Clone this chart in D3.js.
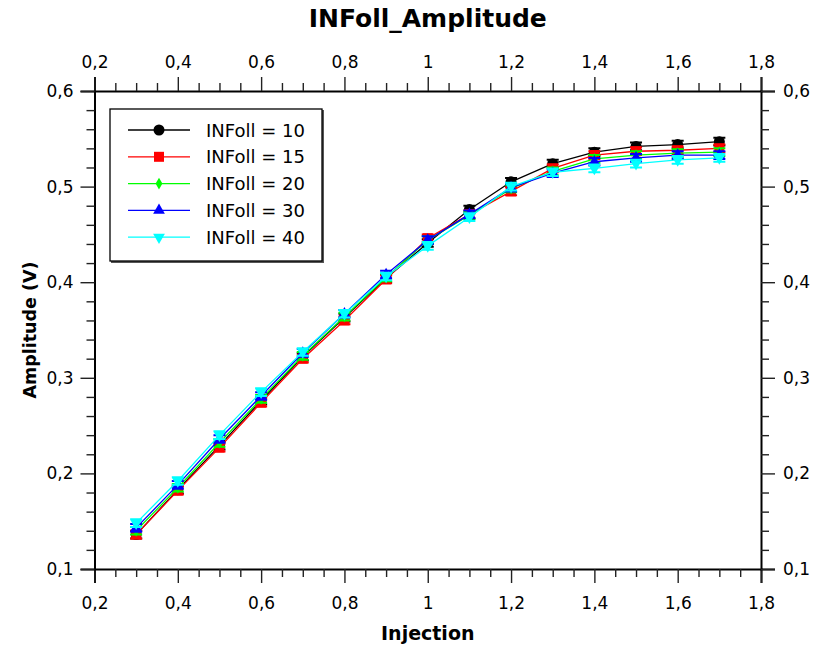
<!DOCTYPE html>
<html>
<head>
<meta charset="utf-8">
<script src="https://cdn.jsdelivr.net/npm/d3@7"></script>
<style>
  body { margin: 0; background: #fff; }
  text { font-family: "DejaVu Sans", Verdana, sans-serif; }
</style>
</head>
<body>
<div class="canvas"></div>
<script>
// data
const injection = [0.3, 0.4, 0.5, 0.6, 0.7, 0.8, 0.9, 1.0, 1.1, 1.2, 1.3, 1.4, 1.5, 1.6, 1.7]
const seriesNames = ["INFoll = 10", "INFoll = 15", "INFoll = 20", "INFoll = 30", "INFoll = 40"]
const infoll10 = [0.136, 0.183, 0.229, 0.276, 0.322, 0.363, 0.404, 0.441, 0.476, 0.505, 0.524, 0.536, 0.542, 0.544, 0.547]
const infoll15 = [0.136, 0.182, 0.227, 0.274, 0.320, 0.360, 0.403, 0.446, 0.471, 0.495, 0.519, 0.533, 0.537, 0.538, 0.540]
const infoll20 = [0.140, 0.185, 0.232, 0.278, 0.323, 0.364, 0.405, 0.444, 0.470, 0.498, 0.516, 0.529, 0.533, 0.535, 0.536]
const infoll30 = [0.143, 0.188, 0.236, 0.281, 0.326, 0.367, 0.408, 0.444, 0.471, 0.499, 0.514, 0.526, 0.530, 0.533, 0.533]
const infoll40 = [0.148, 0.192, 0.240, 0.285, 0.327, 0.367, 0.406, 0.438, 0.468, 0.500, 0.515, 0.519, 0.524, 0.528, 0.530]
const errors = [0.004, 0.004, 0.004, 0.004, 0.004]
const xTicks = [0.2, 0.4, 0.6, 0.8, 1.0, 1.2, 1.4, 1.6, 1.8]
const yTicks = [0.1, 0.2, 0.3, 0.4, 0.5, 0.6]

const seriesValues = [infoll10, infoll15, infoll20, infoll30, infoll40]
const colors = ["#000000", "#ff0000", "#00ff00", "#0000ff", "#00ffff"]
const shapes = [d3.symbolCircle, d3.symbolSquare, d3.symbolDiamond, d3.symbolTriangle, d3.symbolTriangle]
const sizes = [95, 100, 40, 60, 60]
const rotations = [0, 0, 0, 0, 180]

const width = 824
const height = 645
const margin = { top: 91, right: 63, bottom: 76, left: 94.5 }
const graphWidth = width - margin.left - margin.right
const graphHeight = height - margin.top - margin.bottom

const fmt = d => String(+d.toFixed(2)).replace(".", ",")

const svg = d3.select(".canvas")
    .append("svg")
    .attr("width", width)
    .attr("height", height)

const graph = svg.append("g")
    .attr("transform", `translate(${margin.left}, ${margin.top})`)

const x = d3.scaleLinear().domain([0.2, 1.8]).range([0, graphWidth])
const y = d3.scaleLinear().domain([0.1, 0.6]).range([graphHeight, 0])

const xMinor = d3.range(0.2, 1.8001, 0.05).filter(v => !xTicks.some(t => Math.abs(t - v) < 1e-6))
const yMinor = d3.range(0.1, 0.6001, 0.02).filter(v => !yTicks.some(t => Math.abs(t - v) < 1e-6))

// axes, major ticks labelled, minor ticks shorter
function drawAxis(axisFn, scale, ticks, minor, transform, pad) {
    const g = graph.append("g").attr("transform", transform)
    g.call(axisFn(scale).tickValues(ticks).tickFormat(fmt).tickSize(14).tickPadding(pad))
    g.append("g").call(axisFn(scale).tickValues(minor).tickFormat("").tickSize(8))
        .select(".domain").remove()
    g.selectAll(".domain").attr("stroke", "#000").attr("stroke-width", 2)
    g.selectAll(".tick line").attr("stroke", "#222").attr("stroke-width", 1.4)
    g.selectAll("text").attr("font-size", 17).attr("fill", "#000")
    return g
}

drawAxis(d3.axisBottom, x, xTicks, xMinor, `translate(0, ${graphHeight})`, 14)
drawAxis(d3.axisTop, x, xTicks, xMinor, "translate(0, 0)", 9)
drawAxis(d3.axisLeft, y, yTicks, yMinor, "translate(0, 0)", 7)
drawAxis(d3.axisRight, y, yTicks, yMinor, `translate(${graphWidth}, 0)`, 8)

// series
const line = d3.line().x(d => x(d[0])).y(d => y(d[1]))

seriesValues.forEach((vals, i) => {
    const pts = injection.map((v, j) => [v, vals[j]])
    const s = graph.append("g")

    s.append("path")
        .datum(pts)
        .attr("fill", "none")
        .attr("stroke", colors[i])
        .attr("stroke-width", 1.3)
        .attr("d", line)

    // error bars
    s.selectAll(".err")
        .data(pts)
        .enter()
        .append("path")
        .attr("fill", "none")
        .attr("stroke", colors[i])
        .attr("stroke-width", 2)
        .attr("d", d => {
            const cx = x(d[0]), top = y(d[1] + errors[i]), bot = y(d[1] - errors[i])
            return `M${cx - 6},${top}H${cx + 6}M${cx},${top}V${bot}M${cx - 6},${bot}H${cx + 6}`
        })

    s.selectAll(".mark")
        .data(pts)
        .enter()
        .append("path")
        .attr("d", d3.symbol().type(shapes[i]).size(sizes[i]))
        .attr("fill", colors[i])
        .attr("transform", d => `translate(${x(d[0])}, ${y(d[1])}) rotate(${rotations[i]})`)
})

// legend
const legend = svg.append("g").attr("transform", "translate(110, 109)")
legend.append("rect")
    .attr("x", 1).attr("y", 1)
    .attr("width", 213).attr("height", 153)
    .attr("fill", "#555")
legend.append("rect")
    .attr("width", 212).attr("height", 152)
    .attr("fill", "#fff")
    .attr("stroke", "#000")
    .attr("stroke-width", 1.3)

seriesNames.forEach((name, i) => {
    const ly = 21 + i * 26.8
    legend.append("line")
        .attr("x1", 18).attr("x2", 80)
        .attr("y1", ly).attr("y2", ly)
        .attr("stroke", colors[i]).attr("stroke-width", 1.3)
    legend.append("path")
        .attr("d", d3.symbol().type(shapes[i]).size(sizes[i]))
        .attr("fill", colors[i])
        .attr("transform", `translate(49, ${ly}) rotate(${rotations[i]})`)
    legend.append("text")
        .attr("x", 96).attr("y", ly + 6.5)
        .attr("font-size", 18)
        .text(name)
})

// titles
svg.append("text")
    .attr("x", margin.left + graphWidth / 2).attr("y", 27)
    .attr("text-anchor", "middle")
    .attr("font-size", 25).attr("font-weight", "bold")
    .text("INFoll_Amplitude")

svg.append("text")
    .attr("x", margin.left + graphWidth / 2).attr("y", 640)
    .attr("text-anchor", "middle")
    .attr("font-size", 19).attr("font-weight", "bold")
    .text("Injection")

svg.append("text")
    .attr("transform", `translate(36, ${margin.top + graphHeight / 2}) rotate(-90)`)
    .attr("text-anchor", "middle")
    .attr("font-size", 17.5).attr("font-weight", "bold")
    .text("Amplitude (V)")
</script>
</body>
</html>
